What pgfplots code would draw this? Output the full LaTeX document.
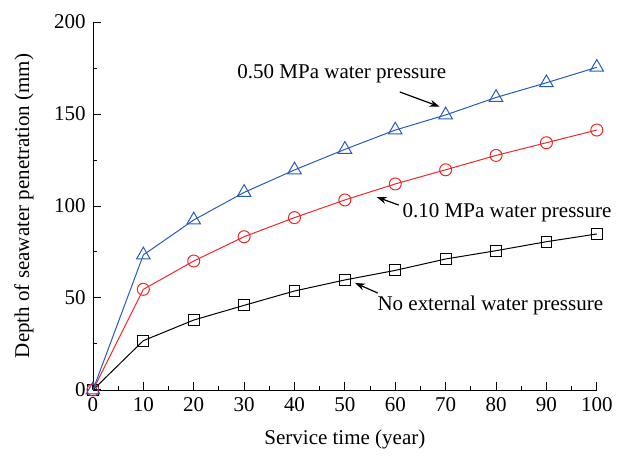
\documentclass[border=0pt]{standalone}
\usepackage{pgfplots}
\pgfplotsset{compat=1.18}
\usepackage{fontspec}
\setmainfont{Liberation Serif}
\usetikzlibrary{arrows.meta}
\definecolor{sblue}{RGB}{40,90,190}
\definecolor{sred}{RGB}{238,40,40}
\begin{document}
\fontsize{10.5}{12}\selectfont
\begin{tikzpicture}[font=\rmfamily]
\begin{axis}[
    scale only axis,
    width=252pt, height=184pt,
    xmin=0, xmax=100, ymin=0, ymax=200,
    axis lines=left,
    axis line style={-},
    tick align=inside,
    xtick={0,10,...,100}, ytick={0,50,...,200},
    xticklabels={0,10,20,30,40,50,60,70,80,90,100},
    yticklabels={0,50,100,150,200},
    minor x tick num=1, minor y tick num=1,
    major tick length=4pt, minor tick length=2pt,
    tick style={black, line width=0.5pt},
    every axis plot/.append style={line width=0.5pt},
    ticklabel style={font=\rmfamily\fontsize{10.5}{12}\selectfont},
    label style={font=\rmfamily\fontsize{10.5}{12}\selectfont},
    xlabel={Service time (year)},
    ylabel={Depth of seawater penetration (mm)},
    xlabel style={yshift=-2pt},
    ylabel style={yshift=3pt},
    clip=false,
]
\addplot[black, mark=square, mark size=2.7pt, mark options={fill=white, solid}]
  coordinates {(0,0)(10,26.8)(20,38)(30,46)(40,53.8)(50,59.8)
               (60,65)(70,71.2)(80,75.7)(90,80.6)(100,84.8)};
\addplot[sred, mark=o, mark size=3pt, mark options={fill=white, solid}]
  coordinates {(0,0)(10,54.7)(20,70.1)(30,83.3)(40,93.7)(50,103.3)
               (60,112)(70,119.7)(80,127.5)(90,134.4)(100,141.3)};
\addplot[sblue, mark=triangle, mark size=3.9pt, mark options={fill=white, solid}]
  coordinates {(0,0)(10,73.4)(20,92.4)(30,107.4)(40,119.6)(50,130.8)
               (60,141.3)(70,149.5)(80,159)(90,167)(100,175.4)};
% annotations
\node[anchor=west, inner sep=0pt] at (axis cs:28.6,172) {0.50 MPa water pressure};
\draw[-{Stealth[length=5pt,width=3.5pt]}, line width=0.6pt] (axis cs:60.9,162) -- (axis cs:68.8,154);
\node[anchor=west, inner sep=0pt] at (axis cs:61.4,96.5) {0.10 MPa water pressure};
\draw[-{Stealth[length=5pt,width=3.5pt]}, line width=0.6pt] (axis cs:60.7,100.5) -- (axis cs:56.3,104.9);
\node[anchor=west, inner sep=0pt] at (axis cs:56.4,45.7) {No external water pressure};
\draw[-{Stealth[length=5pt,width=3.5pt]}, line width=0.6pt] (axis cs:56.5,52.7) -- (axis cs:52,58.2);
% page extent
\path (axis cs:-18.45,-33.2) rectangle (axis cs:105.2,212);
\end{axis}
\end{tikzpicture}
\end{document}
